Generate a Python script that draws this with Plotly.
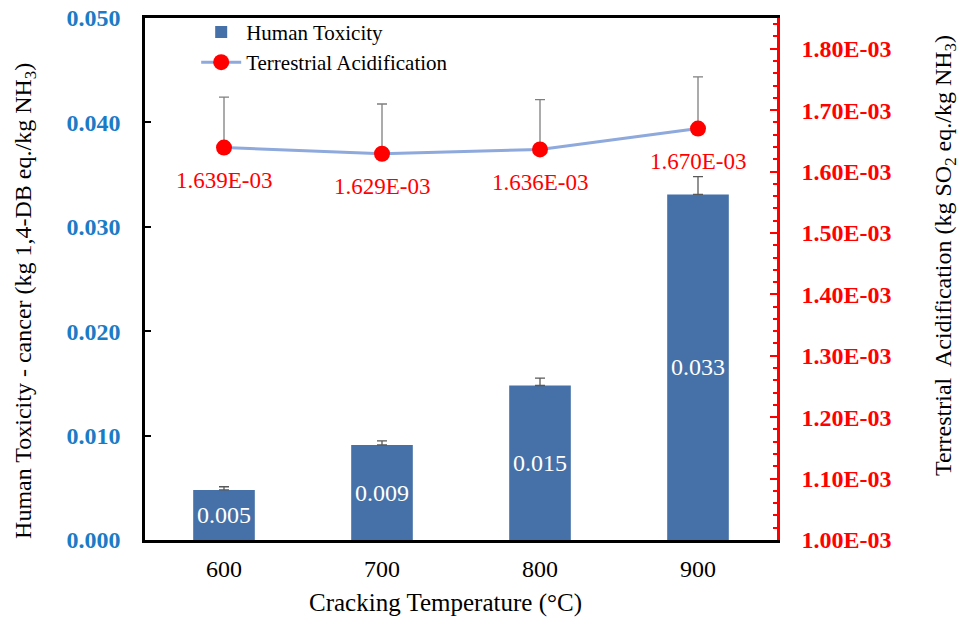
import plotly.graph_objects as go

temps = ["600", "700", "800", "900"]
ht_values = [0.0048, 0.0091, 0.0148, 0.0331]
ht_errors = [0.0003, 0.0004, 0.0007, 0.0017]
ta_values = [1.639e-3, 1.629e-3, 1.636e-3, 1.670e-3]
ta_errors = [8.2e-5, 8.1e-5, 8.1e-5, 8.4e-5]
ta_ticks = [1.0e-3, 1.1e-3, 1.2e-3, 1.3e-3, 1.4e-3, 1.5e-3, 1.6e-3, 1.7e-3, 1.8e-3]

FONT = "Times New Roman, Liberation Serif, serif"
BAR_COLOR = "#4571A8"
LINE_COLOR = "#8EA9DB"
BLUE = "#1A7BC6"
RED = "#FF0000"

fig = go.Figure()

fig.add_trace(go.Bar(
    x=temps, y=ht_values, name="Human Toxicity",
    marker=dict(color=BAR_COLOR, line=dict(width=0)),
    error_y=dict(type="data", array=ht_errors, arrayminus=[0]*len(ht_errors),
                 color="#595959", thickness=1.3, width=5),
    text=[f"{v:.3f}" for v in ht_values],
    textposition="inside", insidetextanchor="middle",
    textfont=dict(family=FONT, size=24, color="white"),
    yaxis="y",
))

fig.add_trace(go.Scatter(
    x=temps, y=ta_values, name="Terrestrial Acidification",
    mode="lines+markers",
    line=dict(color=LINE_COLOR, width=3),
    marker=dict(color=RED, size=16),
    error_y=dict(type="data", array=ta_errors, arrayminus=[0]*len(ta_errors),
                 color="#7F7F7F", thickness=1.3, width=5),
    yaxis="y2",
))

for i, v in enumerate(ta_values):
    fig.add_annotation(x=i, y=v, xref="x", yref="y2", text=f"{v:.3E}",
                       showarrow=False, yshift=-33,
                       font=dict(family=FONT, size=23, color=RED))

# axis titles
fig.add_annotation(x=0, y=0.458, xref="paper", yref="paper", xshift=-120,
                   xanchor="center", yanchor="middle", textangle=-90, showarrow=False,
                   text="Human Toxicity - cancer (kg 1,4-DB eq./kg NH<sub>3</sub>)",
                   font=dict(family=FONT, size=24, color="black"))
fig.add_annotation(x=1, y=0.544, xref="paper", yref="paper", xshift=168,
                   xanchor="center", yanchor="middle", textangle=-90, showarrow=False,
                   text="Terrestrial  Acidification (kg SO<sub>2</sub> eq./kg NH<sub>3</sub>)",
                   font=dict(family=FONT, size=24, color="black"))
fig.add_annotation(x=0.5, y=0, xref="paper", yref="paper", xshift=-16, yshift=-63,
                   xanchor="center", yanchor="middle", showarrow=False,
                   text="Cracking Temperature (°C)",
                   font=dict(family=FONT, size=25, color="black"))

fig.update_layout(
    width=959, height=618,
    margin=dict(l=145, r=182, t=18, b=78, autoexpand=False),
    paper_bgcolor="white", plot_bgcolor="white",
    font=dict(family=FONT, size=18, color="black"),
    bargap=0.61,
    showlegend=True,
    legend=dict(x=0.081, y=1.012, xanchor="left", yanchor="top",
                bgcolor="rgba(0,0,0,0)", font=dict(family=FONT, size=21, color="black"),
                tracegroupgap=0, itemwidth=40),
    xaxis=dict(
        type="category", range=[-0.5, 3.5], autorange=False,
        showline=True, linecolor="black", linewidth=2.5, mirror=True,
        ticks="", showgrid=False,
        tickfont=dict(family=FONT, size=24, color="black"),
        ticklabelstandoff=5,
    ),
    yaxis=dict(
        range=[0, 0.05], dtick=0.01, tickformat=".3f",
        showline=True, linecolor="black", linewidth=2.5,
        ticks="inside", ticklen=6, tickwidth=2, tickcolor="black",
        showgrid=False, zeroline=False,
        tickfont=dict(family=FONT, size=24, color=BLUE, weight="bold"),
        ticklabelstandoff=17,
    ),
    yaxis2=dict(
        range=[0.001, 0.00185],
        tickmode="array", tickvals=ta_ticks, ticktext=[f"{v:.2E}" for v in ta_ticks],
        overlaying="y", side="right",
        showline=True, linecolor=RED, linewidth=2.5,
        ticks="inside", ticklen=7, tickwidth=2, tickcolor=RED,
        minor=dict(dtick=0.00002, tick0=0.001, ticks="inside", ticklen=4, tickwidth=2, tickcolor=RED, showgrid=False),
        showgrid=False, zeroline=False,
        tickfont=dict(family=FONT, size=24, color=RED, weight="bold"),
        ticklabelstandoff=17,
    ),
)

fig.write_html("out.html", config={"displayModeBar": False},
               post_script="document.body.style.margin='0';document.body.style.overflow='hidden';")
